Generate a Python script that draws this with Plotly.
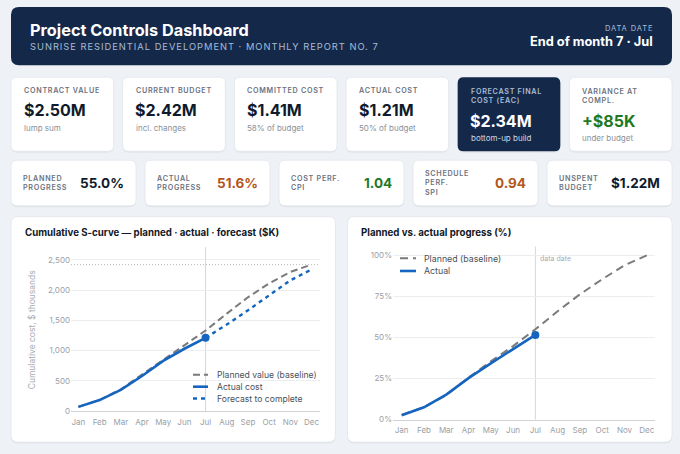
import plotly.graph_objects as go

W, H = 680, 454

# ---------------- data ----------------
months = ["Jan", "Feb", "Mar", "Apr", "May", "Jun", "Jul", "Aug", "Sep", "Oct", "Nov", "Dec"]
data_date = "Jul"

planned_cost = [72, 185, 360, 600, 855, 1085, 1331, 1610, 1880, 2110, 2300, 2420]
actual_cost = [70, 182, 350, 580, 830, 1030, 1210]
forecast_months = ["Jul", "Aug", "Sep", "Oct", "Nov", "Dec"]
forecast_cost = [1210, 1430, 1665, 1915, 2160, 2340]
budget_k = 2420
cost_ticks = [0, 500, 1000, 1500, 2000, 2500]

planned_pct = [2.9, 7.6, 14.9, 25.6, 35.5, 44.8, 55.0, 66.0, 76.3, 85.5, 94.0, 100.0]
actual_pct = [2.7, 7.5, 15.2, 25.3, 34.3, 43.0, 51.6]
pct_ticks = [0, 25, 50, 75, 100]
pct_tick_labels = ["0%", "25%", "50%", "75%", "100%"]

kpi1_labels = ["CONTRACT VALUE", "CURRENT BUDGET", "COMMITTED COST", "ACTUAL COST",
               "FORECAST FINAL<br>COST (EAC)", "VARIANCE AT<br>COMPL."]
kpi1_values = ["$2.50M", "$2.42M", "$1.41M", "$1.21M", "$2.34M", "+$85K"]
kpi1_subs = ["lump sum", "incl. changes", "58% of budget", "50% of budget",
             "bottom-up build", "under budget"]

kpi2_labels = ["PLANNED<br>PROGRESS", "ACTUAL<br>PROGRESS", "COST PERF.<br>CPI",
               "SCHEDULE<br>PERF.<br>SPI", "UNSPENT<br>BUDGET"]
kpi2_values = ["55.0%", "51.6%", "1.04", "0.94", "$1.22M"]

# ---------------- styles ----------------
FONT = "Inter"
NAVY = "#14294a"
BG = "#eef1f5"
DARK = "#0f1b2d"
GREEN = "#1f7a1f"
ORANGE = "#b4561c"
LABEL = "#6b7280"
SUB = "#8a8f98"
BLUE = "#1565c0"
GREY = "#7a7a7a"
TICK = "#9aa0a6"

kpi1_value_colors = [DARK, DARK, DARK, DARK, "#ffffff", GREEN]
kpi2_value_colors = [DARK, ORANGE, GREEN, ORANGE, DARK]

def px(x):
    return x / W

def py(y):
    return 1 - y / H

def rrect(x0, y0, x1, y1, r):
    pts = [("M", x0 + r, y0), ("L", x1 - r, y0), ("Q", x1, y0, x1, y0 + r),
           ("L", x1, y1 - r), ("Q", x1, y1, x1 - r, y1), ("L", x0 + r, y1),
           ("Q", x0, y1, x0, y1 - r), ("L", x0, y0 + r), ("Q", x0, y0, x0 + r, y0)]
    out = []
    for p in pts:
        cmd = p[0]
        coords = p[1:]
        s = cmd
        for i in range(0, len(coords), 2):
            s += " %.5f,%.5f" % (px(coords[i]), py(coords[i + 1]))
        out.append(s)
    return " ".join(out) + " Z"

shapes = []
annotations = []

def box(x0, y0, x1, y1, fill, r=7, border="#e1e5eb", shadow=True):
    if shadow:
        shapes.append(dict(type="path", path=rrect(x0, y0 + 1, x1, y1 + 1.5, r),
                           xref="paper", yref="paper", fillcolor="rgba(15,27,45,0.05)",
                           line=dict(width=0), layer="below"))
    shapes.append(dict(type="path", path=rrect(x0, y0, x1, y1, r), xref="paper", yref="paper",
                       fillcolor=fill, line=dict(color=border, width=0.8 if border else 0),
                       layer="below"))

def text(x, y, t, size, color, bold=False, xanchor="left", ls=None, yanchor="middle",
         angle=0, weight=None):
    if bold:
        t = "<b>" + t + "</b>"
    if ls is not None:
        t = "<span style='letter-spacing:%spx'>%s</span>" % (ls, t)
    f = dict(family=FONT, size=size, color=color)
    if weight is not None:
        f["weight"] = weight
    annotations.append(dict(x=px(x), y=py(y), xref="paper", yref="paper", text=t,
                            showarrow=False, xanchor=xanchor, yanchor=yanchor,
                            align=xanchor if xanchor != "center" else "center",
                            textangle=angle, font=f))

# ---------------- header ----------------
box(11, 7, 672, 66, NAVY, r=8, border=None, shadow=False)
text(27.5, 30, "Project Controls Dashboard", 16.3, "#ffffff", bold=True)
text(28, 47.5, "SUNRISE RESIDENTIAL DEVELOPMENT · MONTHLY REPORT NO. 7", 9.3, "#a9bcd4", ls=1)
text(655, 29, "DATA DATE", 7.5, "#a9bcd4", xanchor="right", ls=0.9)
text(655, 41.5, "End of month 7 · Jul", 12.8, "#ffffff", bold=True, xanchor="right")

# ---------------- KPI row 1 ----------------
cw1 = (661 - 5 * 9) / 6
for i in range(6):
    x0 = 11 + i * (cw1 + 9)
    x1 = x0 + cw1
    dark = i == 4
    box(x0, 78, x1, 153, NAVY if dark else "#ffffff", r=6,
        border=None if dark else "#e1e5eb")
    two = "<br>" in kpi1_labels[i]
    lab_col = "#a9bcd4" if dark else LABEL
    if two:
        text(x0 + 11, 97.5, kpi1_labels[i], 7.2, lab_col, ls=0.7, weight=600)
        vy, sy = 122, 140
    else:
        text(x0 + 11, 92, kpi1_labels[i], 7.2, lab_col, ls=0.7, weight=600)
        vy, sy = 111, 129
    text(x0 + 10.5, vy, kpi1_values[i], 16, kpi1_value_colors[i], bold=True)
    text(x0 + 11, sy, kpi1_subs[i], 8, "#cdd7e3" if dark else SUB)

# ---------------- KPI row 2 ----------------
cw2 = (661 - 4 * 9) / 5
for i in range(5):
    x0 = 11 + i * (cw2 + 9)
    x1 = x0 + cw2
    box(x0, 162, x1, 208, "#ffffff", r=6)
    text(x0 + 10, 185, kpi2_labels[i], 7.2, LABEL, ls=0.7, weight=600)
    text(x1 - 10, 185.5, kpi2_values[i], 13.5, kpi2_value_colors[i], bold=True, xanchor="right")

# ---------------- panels ----------------
box(11, 219, 335.5, 447, "#ffffff", r=7)
box(347.5, 219, 672, 447, "#ffffff", r=7)
text(23, 235.5, "Cumulative S-curve — planned · actual · forecast ($K)", 9.7, "#111827", bold=True)
text(359, 235.5, "Planned vs. actual progress (%)", 9.7, "#111827", bold=True)
text(32, 333, "Cumulative cost, $ thousands", 8.5, "#a6abb2", angle=-90, xanchor="center")

# ---------------- traces ----------------
styles = {
    "Planned value (baseline)": dict(color=GREY, dash="7px,4px", width=2),
    "Actual cost": dict(color=BLUE, dash="solid", width=2.6),
    "Forecast to complete": dict(color=BLUE, dash="4px,4px", width=2.4),
    "Planned (baseline)": dict(color=GREY, dash="8px,5px", width=2),
    "Actual": dict(color=BLUE, dash="solid", width=2.6),
}

fig = go.Figure()
fig.add_trace(go.Scatter(x=months, y=planned_cost, mode="lines", name="Planned value (baseline)",
                         line=styles["Planned value (baseline)"], xaxis="x", yaxis="y"))
fig.add_trace(go.Scatter(x=forecast_months, y=forecast_cost, mode="lines", name="Forecast to complete",
                         line=styles["Forecast to complete"], xaxis="x", yaxis="y"))
fig.add_trace(go.Scatter(x=months[:len(actual_cost)], y=actual_cost, mode="lines", name="Actual cost",
                         line=styles["Actual cost"], xaxis="x", yaxis="y"))
fig.add_trace(go.Scatter(x=[months[len(actual_cost) - 1]], y=[actual_cost[-1]], mode="markers",
                         marker=dict(color=BLUE, size=8, line=dict(width=0)), cliponaxis=False,
                         xaxis="x", yaxis="y", name="Actual to date"))

fig.add_trace(go.Scatter(x=months, y=planned_pct, mode="lines", name="Planned (baseline)",
                         line=styles["Planned (baseline)"], xaxis="x2", yaxis="y2"))
fig.add_trace(go.Scatter(x=months[:len(actual_pct)], y=actual_pct, mode="lines", name="Actual",
                         line=styles["Actual"], xaxis="x2", yaxis="y2"))
fig.add_trace(go.Scatter(x=[months[len(actual_pct) - 1]], y=[actual_pct[-1]], mode="markers",
                         marker=dict(color=BLUE, size=8, line=dict(width=0)), cliponaxis=False,
                         xaxis="x2", yaxis="y2", name="Actual to date"))

dd = months.index(data_date)
# data-date lines and budget line
shapes.append(dict(type="line", xref="x", yref="y domain", x0=dd, x1=dd, y0=0, y1=1,
                   line=dict(color="#d4d7db", width=1), layer="below"))
shapes.append(dict(type="line", xref="x2", yref="y2 domain", x0=dd, x1=dd, y0=0, y1=1,
                   line=dict(color="#d4d7db", width=1), layer="below"))
shapes.append(dict(type="line", xref="x domain", yref="y", x0=0, x1=1, y0=budget_k, y1=budget_k,
                   line=dict(color="#b5b9bf", width=1, dash="1px,2px")))
annotations.append(dict(x=dd, y=1, xref="x2", yref="y2 domain", text="data date", showarrow=False,
                        xanchor="left", yanchor="top", xshift=3, yshift=-5,
                        font=dict(family=FONT, size=7, color="#a6abb2")))

# custom compact legends
def legend(items, x_sym, ys, x_text, size):
    for name, y in zip(items, ys):
        st = styles[name]
        shapes.append(dict(type="line", xref="paper", yref="paper", x0=px(x_sym[0]), x1=px(x_sym[1]),
                           y0=py(y), y1=py(y), line=dict(color=st["color"], width=st["width"],
                                                         dash=st["dash"])))
        text(x_text, y, name, size, "#4b5058")

legend(["Planned value (baseline)", "Actual cost", "Forecast to complete"],
       (193, 208), [379, 391, 403], 215, 8.6)
legend(["Planned (baseline)", "Actual"], (400, 416), [261, 274], 422, 8.8)

axis_common = dict(type="category", showgrid=False, ticks="", showline=True, linecolor="#cfd3d8",
                   linewidth=1, tickfont=dict(family=FONT, size=8, color=TICK), fixedrange=True,
                   ticklabelstandoff=3)
yaxis_common = dict(showgrid=True, gridcolor="#ebedf0", gridwidth=1, zeroline=False, ticks="",
                    showline=False, tickfont=dict(family=FONT, size=8, color=TICK), fixedrange=True,
                    tickmode="array")

fig.update_layout(
    width=W, height=H, margin=dict(l=0, r=0, t=0, b=0),
    paper_bgcolor=BG, plot_bgcolor="rgba(0,0,0,0)", showlegend=False,
    font=dict(family=FONT),
    xaxis=dict(domain=[px(71), px(320)], anchor="y", range=[-0.35, 11.4], **axis_common),
    yaxis=dict(domain=[py(415.7), py(250)], anchor="x", range=[0, 2707], tickvals=cost_ticks,
               ticktext=["{:,}".format(v) for v in cost_ticks], **yaxis_common),
    xaxis2=dict(domain=[px(393), px(655)], anchor="y2", range=[-0.39, 11.37], **axis_common),
    yaxis2=dict(domain=[py(424.3), py(249.3)], anchor="x2", range=[0, 105.4], tickvals=pct_ticks,
                ticktext=pct_tick_labels, **yaxis_common),
    shapes=shapes, annotations=annotations,
)

fig.write_html("out.html", config={"displayModeBar": False},
               post_script="document.body.style.margin='0';document.body.style.background='%s';" % BG)
